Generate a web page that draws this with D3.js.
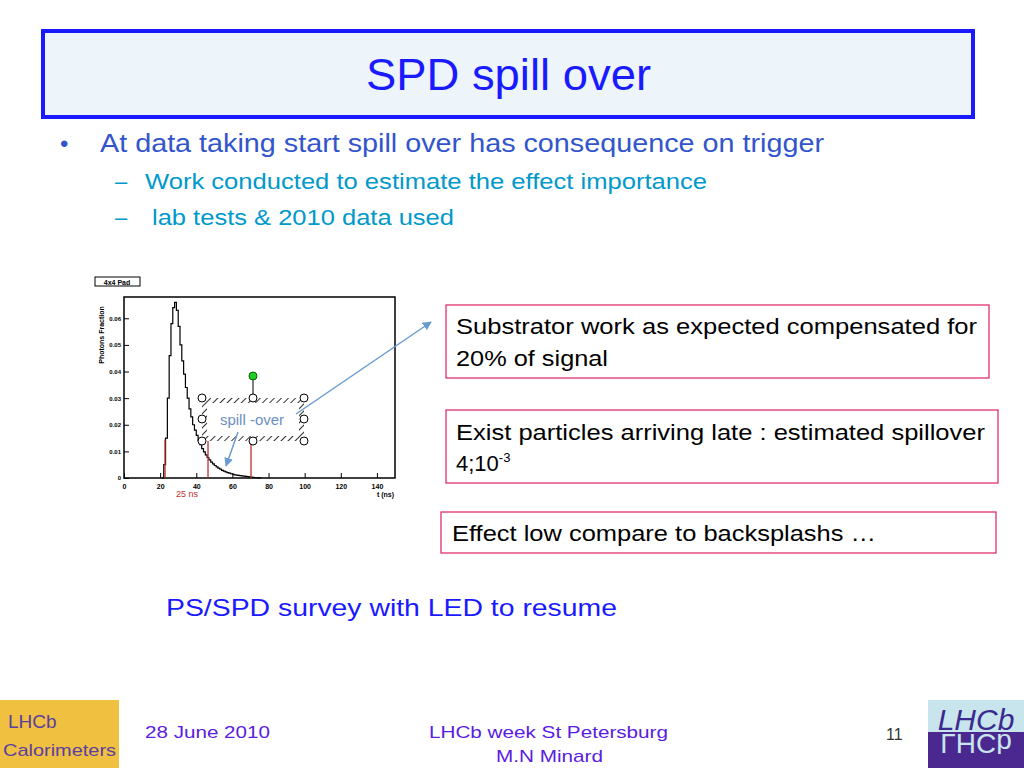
<!DOCTYPE html>
<html><head><meta charset="utf-8">
<script src="https://cdn.jsdelivr.net/npm/d3@7"></script>
<style>body{margin:0;background:#fff}text{font-family:Arial,"Liberation Sans",sans-serif}</style>
</head><body>
<svg id="s" width="1024" height="768"></svg>
<script>
// histogram: 1 ns bins starting at binStart
const binStart = 21;
const fractions = [0,0.005,0.015,0.03,0.046,0.058,0.064,0.066,0.063,0.057,0.05,0.044,0.039,0.034,0.03,0.026,0.023,0.02,0.018,0.016,0.014,0.0125,0.011,0.0098,0.0087,0.0077,0.0068,0.006,0.0053,0.0047,0.0042,0.0037,0.0033,0.0029,0.0026,0.0023,0.002,0.0018,0.0016,0.0014,0.0012,0.0011,0.001,0.0009,0.0008,0.0007,0.0006,0.0005,0.0004,0.0003,0.0002,0.0001,0.0001,0.00005,0];
const redLines = [22.7, 46.5, 70.3];
const redTop = [0.0145, 0.014, 0.0135];
const xTicks = [0,20,40,60,80,100,120,140];
const yTicks = [0,0.01,0.02,0.03,0.04,0.05,0.06];
const yTickLabels = ["0","0.01","0.02","0.03","0.04","0.05","0.06"];

const svg = d3.select("#s");
const blue = "#1a1aff", teal = "#0099cc", pink = "#e0306a";

function txt(x0,y0,size,color,s,len){
  const t = svg.append("text").attr("x",x0).attr("y",y0).attr("font-size",size).attr("fill",color).text(s);
  if(len) t.attr("textLength",len).attr("lengthAdjust","spacingAndGlyphs");
  return t;
}

// title
svg.append("rect").attr("x",43).attr("y",31).attr("width",930).attr("height",86)
  .attr("fill","#eef5fa").attr("stroke",blue).attr("stroke-width",4);
txt(366,90,44,blue,"SPD spill over",285);

txt(60,152,24,"#3355cc","•");
txt(100,152,25,"#3355cc","At data taking start spill over  has consequence on trigger",724);
txt(115,189,22,teal,"–");
txt(145,189,22,teal,"Work conducted to estimate the effect importance",562);
txt(115,225,22,teal,"–");
txt(152,225,22,teal,"lab tests & 2010 data used",302);

// chart
const x = d3.scaleLinear().domain([0,150]).range([124,395]);
const y = d3.scaleLinear().domain([0,0.068]).range([478,297]);
const g = svg.append("g");
g.append("rect").attr("x",124).attr("y",297).attr("width",271).attr("height",181)
  .attr("fill","#fff").attr("stroke","#000").attr("stroke-width",1.5);
g.append("g").attr("transform","translate(0,478)")
  .call(d3.axisBottom(x).tickValues(xTicks).tickSize(-5).tickFormat(d3.format("d")))
  .call(a=>{a.select(".domain").remove();a.selectAll("text").attr("font-size",7).attr("font-weight","bold").attr("dy","1.2em");});
g.append("g").attr("transform","translate(124,0)")
  .call(d3.axisLeft(y).tickValues(yTicks).tickSize(-5).tickFormat((d,i)=>yTickLabels[i]))
  .call(a=>{a.select(".domain").remove();a.selectAll("text").attr("font-size",6).attr("font-weight","bold");});
g.append("text").attr("transform","translate(104,335) rotate(-90)").attr("text-anchor","middle")
  .attr("font-size",7).attr("font-weight","bold").text("Photons Fraction");
g.append("text").attr("x",394).attr("y",497).attr("text-anchor","end").attr("font-size",7).attr("font-weight","bold").text("t (ns)");
g.append("rect").attr("x",95).attr("y",277).attr("width",45).attr("height",9).attr("fill","#fff").attr("stroke","#000");
g.append("text").attr("x",117).attr("y",284.5).attr("text-anchor","middle").attr("font-size",7).attr("font-weight","bold").text("4x4 Pad");

const pts = [];
fractions.forEach((v,i)=>{pts.push([binStart+i,v]);pts.push([binStart+i+1,v]);});
g.append("path").attr("d",d3.line().x(d=>x(d[0])).y(d=>y(d[1]))(pts))
  .attr("fill","none").attr("stroke","#000").attr("stroke-width",1.2);
redLines.forEach((t,i)=>g.append("line").attr("x1",x(t)).attr("x2",x(t)).attr("y1",478).attr("y2",y(redTop[i]))
  .attr("stroke","#c03030").attr("stroke-width",1.3));
g.append("text").attr("x",187).attr("y",497).attr("text-anchor","middle").attr("font-size",9).attr("fill","#c03030").text("25 ns");

// annotation box
const defs = svg.append("defs");
const pat = defs.append("pattern").attr("id","h").attr("width",5).attr("height",5)
  .attr("patternUnits","userSpaceOnUse").attr("patternTransform","rotate(45)");
pat.append("rect").attr("width",5).attr("height",5).attr("fill","#fff");
pat.append("line").attr("x1",0).attr("y1",0).attr("x2",0).attr("y2",5).attr("stroke","#333").attr("stroke-width",2);
defs.append("marker").attr("id","ar").attr("viewBox","0 0 10 10").attr("refX",9).attr("refY",5)
  .attr("markerWidth",6).attr("markerHeight",6).attr("orient","auto")
  .append("path").attr("d","M0,0L10,5L0,10z").attr("fill","#6a9bd0");
g.append("rect").attr("x",202).attr("y",398).attr("width",102).attr("height",43).attr("fill","url(#h)");
g.append("rect").attr("x",207).attr("y",403).attr("width",92).attr("height",33).attr("fill","#fff");
g.append("text").attr("x",252).attr("y",425).attr("text-anchor","middle").attr("font-size",15).attr("fill","#6a8fc0").text("spill -over");
g.append("line").attr("x1",253).attr("x2",253).attr("y1",376).attr("y2",398).attr("stroke","#000");
[[202,398],[253,398],[304,398],[202,419],[304,419],[202,441],[253,441],[304,441]].forEach(p=>
  g.append("circle").attr("cx",p[0]).attr("cy",p[1]).attr("r",4).attr("fill","#fff").attr("stroke","#000"));
g.append("circle").attr("cx",253).attr("cy",376).attr("r",4).attr("fill","#22cc22").attr("stroke","#060");
g.append("line").attr("x1",296).attr("y1",414).attr("x2",431).attr("y2",322).attr("stroke","#6a9bd0").attr("stroke-width",1.5).attr("marker-end","url(#ar)");
g.append("line").attr("x1",238).attr("y1",432).attr("x2",226).attr("y2",466).attr("stroke","#6a9bd0").attr("stroke-width",1.5).attr("marker-end","url(#ar)");

// text boxes
function box(x0,y0,w,h){
  svg.append("rect").attr("x",x0).attr("y",y0).attr("width",w).attr("height",h).attr("fill","#fff").attr("stroke",pink).attr("stroke-width",1.3);
}
box(446,305,543,73); box(446,410,552,73); box(441,512,555,41);
txt(456,334,22,"#000","Substrator work as expected compensated for",521);
txt(456,366,22,"#000","20% of signal",152);
txt(456,440,22,"#000","Exist particles arriving late : estimated spillover",529);
txt(456,471,22,"#000","4;10").append("tspan").attr("dy",-9).attr("font-size",13).text("-3");
txt(452,541,22,"#000","Effect low compare to backsplashs …",424);

txt(166,616,24,blue,"PS/SPD survey with LED to resume",451);

// footer
const ff = "'Comic Sans MS','DejaVu Sans',sans-serif";
const purple = "#5a20e0";
svg.append("rect").attr("x",0).attr("y",700).attr("width",119).attr("height",68).attr("fill","#f0c040");
txt(8,728,19,"#5a3fa0","LHCb").attr("font-family",ff);
txt(3,756,17,"#5a3fa0","Calorimeters",113).attr("font-family",ff);
txt(145,738,17,purple,"28 June 2010",125).attr("font-family",ff);
txt(429,738,17,purple,"LHCb week St Petersburg",239).attr("font-family",ff);
txt(496,762,17,purple,"M.N Minard",107).attr("font-family",ff);
txt(886,740,16,"#333","11");
svg.append("rect").attr("x",928).attr("y",700).attr("width",96).attr("height",68).attr("fill","#4a2890");
svg.append("rect").attr("x",928).attr("y",700).attr("width",96).attr("height",32).attr("fill","#c8e4ec");
svg.append("text").attr("x",976).attr("y",730).attr("text-anchor","middle").attr("font-size",30).attr("font-style","italic").attr("font-family","'Liberation Serif',serif").attr("fill","#3a2a90").text("LHCb");
svg.append("text").attr("x",976).attr("y",732).attr("text-anchor","middle").attr("font-size",28).attr("font-family","'Liberation Serif',serif").attr("fill","#c8e4ec").attr("transform","translate(0,1466) scale(1,-1)").text("LHCb");
</script></body></html>
